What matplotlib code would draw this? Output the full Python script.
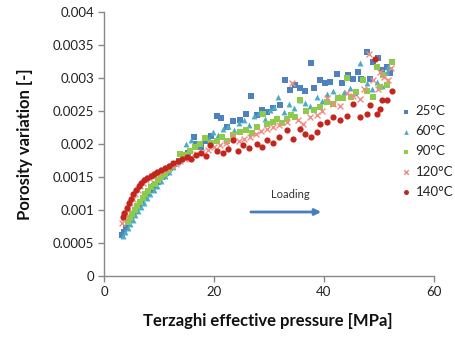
import matplotlib
matplotlib.use('Agg')
import matplotlib.pyplot as plt
from matplotlib.ticker import FuncFormatter, MultipleLocator

# data (pressure in MPa, porosity variation)
x25 = [3.2, 3.6, 4.0, 4.4, 4.9, 5.3, 5.8, 6.3, 6.8, 7.3, 7.9, 8.5, 9.1, 9.8, 10.5,
       11.2, 12.0, 12.8, 13.6, 14.5, 15.3, 16.4, 16.8, 17.6, 18.5, 19.4, 20.5, 21.2,
       22.3, 23.5, 24.7, 25.9, 26.8, 27.8, 28.7, 29.6, 30.8, 32.0, 32.9, 33.8, 34.7,
       35.6, 36.5, 37.6, 38.1, 39.3, 40.2, 41.1, 42.3, 43.2, 44.4, 45.3, 46.2, 46.8,
       47.8, 48.4, 49.0, 49.9, 50.5, 51.4, 52.0]
y25 = [0.00062, 0.00067, 0.00073, 0.00079, 0.00086, 0.00092, 0.00099, 0.00106, 0.00112,
       0.00118, 0.00125, 0.00131, 0.00137, 0.00143, 0.00150, 0.00156, 0.00163, 0.00169,
       0.00174, 0.00180, 0.00186, 0.00210, 0.00200, 0.00196, 0.00205, 0.00212, 0.00242,
       0.00240, 0.00226, 0.00235, 0.00236, 0.00246, 0.00272, 0.00244, 0.00252, 0.00249,
       0.00254, 0.00259, 0.00297, 0.00282, 0.00289, 0.00285, 0.00281, 0.00323, 0.00285,
       0.00297, 0.00292, 0.00294, 0.00306, 0.00293, 0.00304, 0.00299, 0.00309, 0.00299,
       0.00340, 0.00299, 0.00324, 0.00331, 0.00312, 0.00317, 0.00307]

x60 = [3.5, 3.9, 4.3, 4.8, 5.2, 5.7, 6.2, 6.7, 7.2, 7.8, 8.4, 9.0, 9.6, 10.3, 11.0,
       11.8, 12.6, 13.4, 14.2, 14.9, 15.9, 16.8, 18.1, 19.0, 19.9, 20.8, 21.7, 22.6,
       23.6, 24.5, 25.4, 26.3, 27.3, 28.2, 29.2, 30.1, 31.0, 31.7, 32.7, 33.6, 34.6,
       35.6, 36.5, 37.5, 38.7, 39.6, 40.6, 41.7, 42.7, 43.7, 44.7, 45.6, 46.5, 47.8,
       48.7, 49.6, 50.5, 51.4, 51.7]
y60 = [0.00060, 0.00066, 0.00072, 0.00079, 0.00085, 0.00092, 0.00098, 0.00105, 0.00111,
       0.00118, 0.00124, 0.00131, 0.00137, 0.00144, 0.00151, 0.00158, 0.00165, 0.00172,
       0.00182, 0.00200, 0.00206, 0.00199, 0.00211, 0.00208, 0.00218, 0.00214, 0.00223,
       0.00228, 0.00221, 0.00232, 0.00236, 0.00229, 0.00242, 0.00247, 0.00238, 0.00252,
       0.00256, 0.00271, 0.00249, 0.00260, 0.00255, 0.00266, 0.00262, 0.00258, 0.00271,
       0.00265, 0.00276, 0.00281, 0.00272, 0.00279, 0.00285, 0.00277, 0.00323, 0.00292,
       0.00283, 0.00294, 0.00288, 0.00309, 0.00317]

x90 = [4.3, 4.7, 5.1, 5.6, 6.0, 6.5, 7.0, 7.5, 8.0, 8.6, 9.2, 9.8, 10.4, 11.1, 11.8,
       12.6, 13.8, 14.7, 15.6, 16.5, 17.5, 18.4, 19.4, 20.5, 21.4, 22.3, 23.5, 24.7,
       25.9, 26.9, 27.9, 29.0, 29.6, 30.8, 31.5, 32.3, 33.2, 34.0, 34.7, 35.6, 36.8,
       38.1, 39.3, 40.5, 41.7, 42.6, 43.5, 44.1, 45.0, 45.9, 47.1, 47.8, 49.0, 49.6,
       50.2, 50.8, 51.4, 52.3]
y90 = [0.00082, 0.00088, 0.00094, 0.00100, 0.00106, 0.00112, 0.00118, 0.00124, 0.00129,
       0.00135, 0.00140, 0.00145, 0.00150, 0.00155, 0.00160, 0.00166, 0.00185, 0.00183,
       0.00190, 0.00195, 0.00200, 0.00209, 0.00201, 0.00205, 0.00210, 0.00205, 0.00214,
       0.00218, 0.00221, 0.00216, 0.00226, 0.00246, 0.00231, 0.00233, 0.00238, 0.00232,
       0.00238, 0.00244, 0.00241, 0.00266, 0.00250, 0.00252, 0.00256, 0.00264, 0.00261,
       0.00269, 0.00269, 0.00300, 0.00271, 0.00279, 0.00297, 0.00281, 0.00271, 0.00317,
       0.00286, 0.00304, 0.00289, 0.00324]

x120 = [3.3, 3.6, 4.0, 4.4, 4.8, 5.2, 5.7, 6.1, 6.6, 7.1, 7.6, 8.2, 8.8, 9.4, 10.0,
        10.7, 11.4, 12.2, 13.0, 13.9, 14.8, 15.8, 16.8, 17.8, 18.9, 20.0, 21.0, 22.2,
        23.5, 24.6, 25.5, 26.5, 27.6, 28.6, 29.6, 30.7, 31.8, 33.2, 34.1, 35.2, 36.2,
        37.4, 38.7, 39.6, 40.5, 41.7, 42.9, 44.1, 45.2, 46.5, 47.3, 48.1, 49.0, 49.8,
        50.2, 50.9, 51.7, 52.1]
y120 = [0.00080, 0.00088, 0.00096, 0.00103, 0.00110, 0.00117, 0.00124, 0.00130, 0.00136,
        0.00141, 0.00145, 0.00149, 0.00152, 0.00155, 0.00158, 0.00161, 0.00164, 0.00167,
        0.00170, 0.00174, 0.00178, 0.00181, 0.00185, 0.00188, 0.00191, 0.00195, 0.00198,
        0.00201, 0.00212, 0.00204, 0.00207, 0.00211, 0.00215, 0.00219, 0.00222, 0.00226,
        0.00229, 0.00234, 0.00292, 0.00237, 0.00231, 0.00241, 0.00244, 0.00250, 0.00270,
        0.00260, 0.00258, 0.00278, 0.00272, 0.00268, 0.00283, 0.00337, 0.00297, 0.00283,
        0.00309, 0.00302, 0.00297, 0.00315]

x140 = [3.4, 3.7, 4.1, 4.5, 4.9, 5.3, 5.8, 6.3, 6.8, 7.3, 7.9, 8.5, 9.1, 9.7, 10.4,
        11.1, 11.8, 12.6, 13.4, 14.2, 15.0, 15.9, 16.8, 17.7, 18.6, 19.3, 20.5, 21.7,
        22.6, 23.5, 24.4, 25.3, 26.4, 27.8, 28.7, 29.6, 30.7, 31.8, 33.2, 34.4, 35.6,
        36.6, 37.6, 38.7, 39.3, 40.5, 41.7, 42.9, 44.1, 45.3, 46.5, 47.8, 48.4, 49.3,
        49.6, 50.2, 50.5, 51.4, 52.3]
y140 = [0.00090, 0.00096, 0.00103, 0.00110, 0.00117, 0.00124, 0.00130, 0.00136, 0.00141,
        0.00145, 0.00149, 0.00152, 0.00155, 0.00158, 0.00161, 0.00164, 0.00167, 0.00171,
        0.00174, 0.00177, 0.00181, 0.00178, 0.00184, 0.00186, 0.00182, 0.00198, 0.00190,
        0.00186, 0.00192, 0.00206, 0.00190, 0.00198, 0.00194, 0.00200, 0.00196, 0.00206,
        0.00201, 0.00211, 0.00221, 0.00207, 0.00223, 0.00215, 0.00210, 0.00218, 0.00231,
        0.00234, 0.00241, 0.00237, 0.00243, 0.00261, 0.00241, 0.00246, 0.00259, 0.00329,
        0.00246, 0.00253, 0.00266, 0.00266, 0.00280]

labels = ['25°C', '60°C', '90°C', '120°C', '140°C']
series = [(x25, y25), (x60, y60), (x90, y90), (x120, y120), (x140, y140)]
colors = ['#4F81BD', '#4BACC6', '#8DCB4A', '#F08C84', '#C4251F']
markers = ['s', '^', 's', 'x', 'o']
sizes = [18, 18, 20, 18, 20]

plt.rcParams['font.family'] = ['Lato', 'DejaVu Sans']

fig = plt.figure(figsize=(4.55, 3.39), dpi=100)
ax = fig.add_axes([0.2286, 0.1858, 0.7252, 0.7788])

for (x, y), lab, c, m, s in zip(series, labels, colors, markers, sizes):
    if m == 'x':
        ax.scatter(x, y, s=s, marker=m, color=c, linewidths=1.0, label=lab, zorder=3)
    else:
        ax.scatter(x, y, s=s, marker=m, color=c, linewidths=0, label=lab, zorder=3)

ax.set_xlim(0, 60)
ax.set_ylim(0, 0.004)
ax.xaxis.set_major_locator(MultipleLocator(20))
ax.yaxis.set_major_locator(MultipleLocator(0.0005))
ax.yaxis.set_major_formatter(FuncFormatter(lambda v, p: '%g' % v))

for side in ['top', 'right']:
    ax.spines[side].set_visible(False)
for side in ['left', 'bottom']:
    ax.spines[side].set_color('#888888')
    ax.spines[side].set_linewidth(1.0)
ax.tick_params(axis='both', direction='out', length=4, width=1.0, color='#888888',
               labelsize=9.5, labelcolor='#222222', pad=3)

ax.set_xlabel('Terzaghi effective pressure [MPa]', fontsize=12, fontweight='bold',
              color='#111111')
ax.set_ylabel('Porosity variation [-]', fontsize=12, fontweight='bold', color='#111111')
ax.xaxis.set_label_coords(0.497, -0.14)
ax.yaxis.set_label_coords(-0.215, 0.5)

# loading arrow
ax.annotate('', xy=(40, 0.00097), xytext=(26.2, 0.00097),
            arrowprops=dict(arrowstyle='-|>', color='#4A7EBB', lw=2, mutation_scale=9))
ax.text(33.8, 0.00124, 'Loading', fontsize=8, color='#333333', ha='center', va='center')

fig.legend(loc='upper left', bbox_to_anchor=(0.881, 0.69), frameon=False,
           fontsize=9.5, handlelength=0.8, handletextpad=0.3, labelspacing=0.62,
           borderpad=0, borderaxespad=0, markerscale=0.8, labelcolor='#222222')

plt.savefig('out.png', dpi=100)
